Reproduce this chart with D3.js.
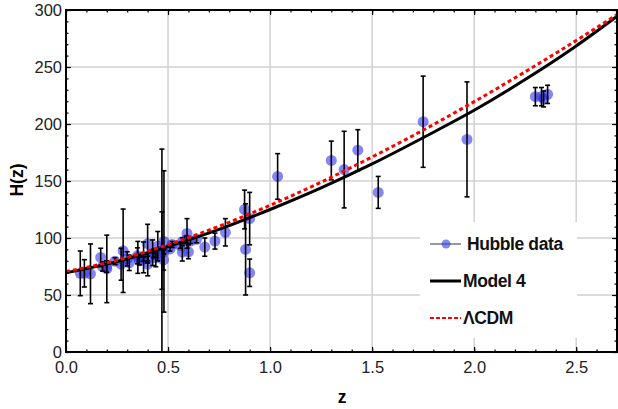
<!DOCTYPE html>
<html><head><meta charset="utf-8">
<script src="https://cdn.jsdelivr.net/npm/d3@7"></script>
<style>body{margin:0;background:#fff}svg{display:block}text{font-family:"Liberation Sans",Arial,sans-serif}</style>
</head><body>
<script>
// Hubble data (z, H, sigma)
const zVals = [0.07,0.09,0.12,0.17,0.179,0.199,0.2,0.27,0.28,0.352,0.3802,0.4,0.4004,0.4247,0.4497,0.47,0.4783,0.48,0.593,0.68,0.781,0.875,0.88,0.9,1.037,1.3,1.363,1.43,1.53,1.75,1.965,
  0.24,0.35,0.43,0.44,0.6,0.73,0.57,0.3,0.31,0.36,0.38,0.4,0.44,0.48,0.51,0.52,0.56,0.57,0.59,0.61,0.64,2.30,2.33,2.34,2.36,0.9,0.47];
const hVals = [69,69,68.6,83,75,75,72.9,77,88.8,83,83,95,77,87.1,92.8,89,80.9,97,104,92,105,125,90,117,154,168,160,177,140,202,186.5,
  79.7,84.4,86.5,82.6,87.9,97.3,96.8,81.7,78.2,79.9,81.5,82.0,84.8,87.8,90.4,94.4,93.3,87.6,98.5,97.3,98.8,224,224,222,226,69.5,89];
const hErr = [19.6,12,26.2,8,4,5,29.6,14,36.6,14,13.5,17,10.2,11.2,12.9,34,9,62,13,8,12,17,40,23,20,17,33.6,18,14,40,50.4,
  3,7,3.7,7.8,6.1,7,3.4,6.2,6.7,3.4,1.9,2,1.8,2,1.9,2.6,2.3,7.8,3.2,2.1,3,8,8,7,8,12,89];
// Model curves
const curveZ = [0,0.25,0.5,0.75,1.0,1.25,1.5,1.75,2.0,2.25,2.5,2.7];
const model4H = [69.5,79.3,92.5,107.5,125,144,165,188,212,239,268.5,294.5];
const lcdmH = [70.5,80.5,94.1,110.3,128.7,149,171.1,194.6,219.6,245.8,273.2,296];
// Ticks
const xMajor = [0,0.5,1.0,1.5,2.0,2.5];
const yMajor = [0,50,100,150,200,250,300];
const legendLabels = ["Hubble data","Model 4","\u039BCDM"];

const W=618,H=409;
const svg=d3.select("body").append("svg").attr("width",W).attr("height",H);
const x=d3.scaleLinear().domain([0,2.7]).range([66,617]);
const y=d3.scaleLinear().domain([0,300]).range([352,10]);
const xMinor=d3.range(0,27.01,1).map(d=>d/10);
const yMinor=d3.range(0,301,10);

// grid
const g=svg.append("g");
g.selectAll(".gx").data(xMajor.filter(d=>d>0)).enter().append("line")
 .attr("x1",d=>x(d)).attr("x2",d=>x(d)).attr("y1",y(0)).attr("y2",y(300))
 .attr("stroke","#d0d0d0").attr("stroke-width",1.5);
g.selectAll(".gy").data(yMajor.filter(d=>d>0&&d<300)).enter().append("line")
 .attr("x1",x(0)).attr("x2",x(2.7)).attr("y1",d=>y(d)).attr("y2",d=>y(d))
 .attr("stroke","#d0d0d0").attr("stroke-width",1.5);

svg.append("clipPath").attr("id","clip").append("rect")
 .attr("x",x(0)).attr("y",y(300)).attr("width",x(2.7)-x(0)).attr("height",y(0)-y(300));
const plot=svg.append("g").attr("clip-path","url(#clip)");

const idx=d3.range(zVals.length);
plot.selectAll("circle.pt").data(idx).enter().append("circle")
 .attr("cx",i=>x(zVals[i])).attr("cy",i=>y(hVals[i])).attr("r",5.5)
 .attr("fill","#3333ee").attr("fill-opacity",0.6);
const eb=plot.selectAll("g.eb").data(idx).enter().append("g").attr("stroke","#000").attr("stroke-width",1.6);
eb.append("line").attr("x1",i=>x(zVals[i])).attr("x2",i=>x(zVals[i]))
 .attr("y1",i=>y(hVals[i]-hErr[i])).attr("y2",i=>y(hVals[i]+hErr[i]));
eb.append("line").attr("x1",i=>x(zVals[i])-2.5).attr("x2",i=>x(zVals[i])+2.5)
 .attr("y1",i=>y(hVals[i]-hErr[i])).attr("y2",i=>y(hVals[i]-hErr[i]));
eb.append("line").attr("x1",i=>x(zVals[i])-2.5).attr("x2",i=>x(zVals[i])+2.5)
 .attr("y1",i=>y(hVals[i]+hErr[i])).attr("y2",i=>y(hVals[i]+hErr[i]));

const line=d3.line().curve(d3.curveMonotoneX);
plot.append("path").attr("d",line(curveZ.map((z,i)=>[x(z),y(model4H[i])])))
 .attr("fill","none").attr("stroke","#000").attr("stroke-width",3);
plot.append("path").attr("d",line(curveZ.map((z,i)=>[x(z),y(lcdmH[i])])))
 .attr("fill","none").attr("stroke","#ff0000").attr("stroke-width",3).attr("stroke-dasharray","4,3");

// axes
function styleAx(sel,labels){
  sel.select(".domain").remove();
  sel.selectAll(".tick line").attr("stroke","#000").attr("stroke-width",1.2);
  if(labels) sel.selectAll(".tick text").attr("fill","#222").style("font-size","16.5px");
  else sel.selectAll(".tick text").remove();
}
const bx=svg.append("g").attr("transform",`translate(0,${y(0)})`)
 .call(d3.axisBottom(x).tickValues(xMajor).tickFormat(d3.format(".1f")).tickSizeInner(-5).tickSizeOuter(0).tickPadding(9));
styleAx(bx,true);
styleAx(svg.append("g").attr("transform",`translate(0,${y(0)})`).call(d3.axisBottom(x).tickValues(xMinor).tickSizeInner(-2.5).tickSizeOuter(0)),false);
styleAx(svg.append("g").attr("transform",`translate(0,${y(300)})`).call(d3.axisTop(x).tickValues(xMajor).tickSizeInner(-5).tickSizeOuter(0)),false);
styleAx(svg.append("g").attr("transform",`translate(0,${y(300)})`).call(d3.axisTop(x).tickValues(xMinor).tickSizeInner(-2.5).tickSizeOuter(0)),false);
const ly=svg.append("g").attr("transform",`translate(${x(0)},0)`)
 .call(d3.axisLeft(y).tickValues(yMajor).tickFormat(d3.format("d")).tickSizeInner(-5).tickSizeOuter(0).tickPadding(4));
styleAx(ly,true);
styleAx(svg.append("g").attr("transform",`translate(${x(0)},0)`).call(d3.axisLeft(y).tickValues(yMinor).tickSizeInner(-2.5).tickSizeOuter(0)),false);
styleAx(svg.append("g").attr("transform",`translate(${x(2.7)},0)`).call(d3.axisRight(y).tickValues(yMajor).tickSizeInner(-5).tickSizeOuter(0)),false);
styleAx(svg.append("g").attr("transform",`translate(${x(2.7)},0)`).call(d3.axisRight(y).tickValues(yMinor).tickSizeInner(-2.5).tickSizeOuter(0)),false);

// frame
svg.append("rect").attr("x",x(0)).attr("y",y(300)).attr("width",x(2.7)-x(0)).attr("height",y(0)-y(300))
 .attr("fill","none").attr("stroke","#000").attr("stroke-width",2);

// titles
svg.append("text").attr("x",342).attr("y",403).attr("text-anchor","middle")
 .style("font-size","17.5px").style("font-weight","bold").text("z");
svg.append("text").attr("transform","translate(23,180) rotate(-90)").attr("text-anchor","middle")
 .style("font-size","17.5px").style("font-weight","bold").text("H(z)");

// legend
const lg=svg.append("g");
lg.append("rect").attr("x",420).attr("y",222).attr("width",157).attr("height",116).attr("fill","#fff");
const rowsY=[244,281,318];
lg.append("line").attr("x1",430).attr("x2",461).attr("y1",rowsY[0]).attr("y2",rowsY[0]).attr("stroke","#555").attr("stroke-width",1.2);
lg.append("circle").attr("cx",446).attr("cy",rowsY[0]).attr("r",4.5).attr("fill","#3333ee").attr("fill-opacity",0.6);
lg.append("line").attr("x1",430).attr("x2",461).attr("y1",rowsY[1]).attr("y2",rowsY[1]).attr("stroke","#000").attr("stroke-width",3);
lg.append("line").attr("x1",430).attr("x2",461).attr("y1",rowsY[2]).attr("y2",rowsY[2]).attr("stroke","#ff0000").attr("stroke-width",2).attr("stroke-dasharray","4,2");
const tx=[467,463,463];
lg.selectAll("text.l").data(legendLabels).enter().append("text")
 .attr("x",(d,i)=>tx[i]).attr("y",(d,i)=>rowsY[i]).attr("dy","0.36em")
 .style("font-size","17.5px").style("font-weight","bold").style("letter-spacing","-0.4px").attr("fill","#111").text(d=>d);
</script>
</body></html>
